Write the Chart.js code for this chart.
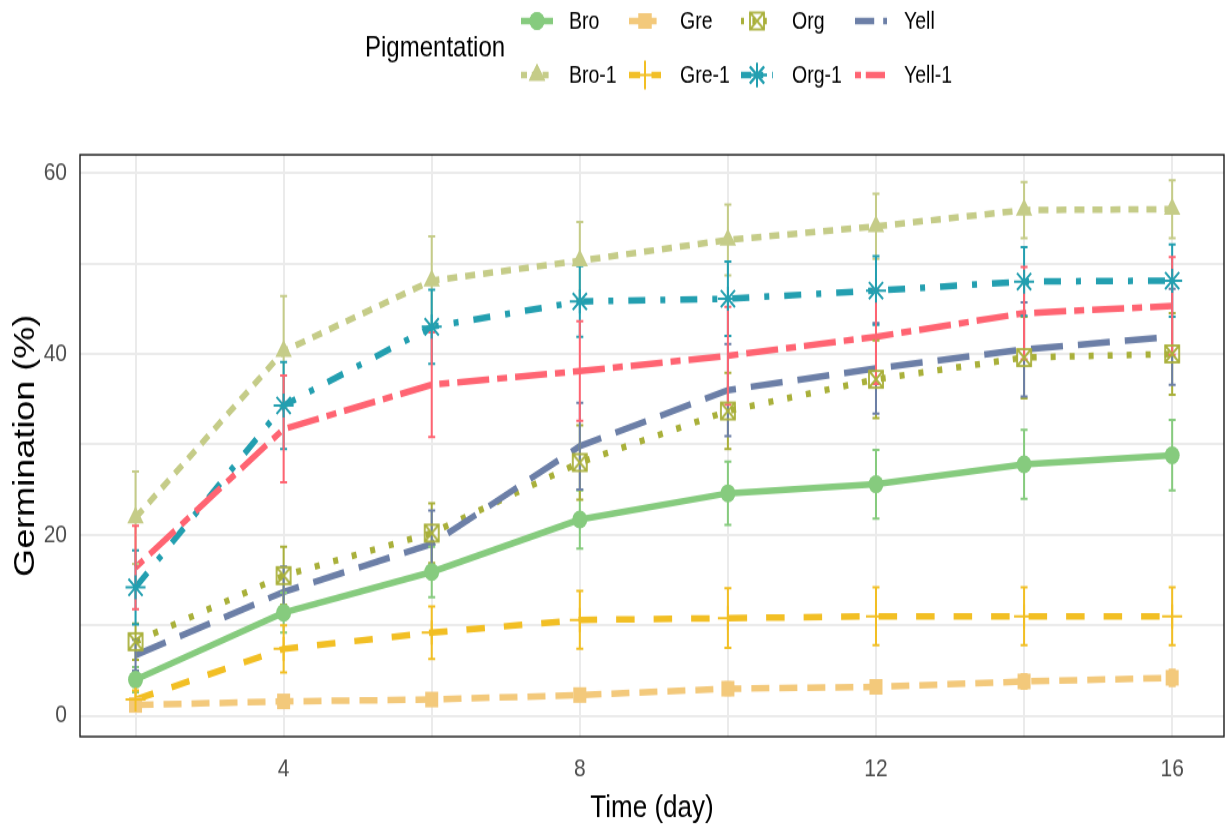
<!DOCTYPE html>
<html><head><meta charset="utf-8">
<script src="https://cdn.jsdelivr.net/npm/chart.js@4/dist/chart.umd.min.js"></script>
<style>
html,body{margin:0;padding:0;background:#fff;width:1225px;height:829px;}
#wrap{width:1225px;height:691px;transform:scaleY(1.19971);transform-origin:0 0;}
canvas{display:block;}
</style></head><body>
<div id="wrap"><canvas id="c" width="1225" height="691"></canvas></div>
<script>
// ---------------- data ----------------
const days = [2, 4, 6, 8, 10, 12, 14, 16];
const seriesNames = ['Bro', 'Bro-1', 'Gre', 'Gre-1', 'Org', 'Org-1', 'Yell', 'Yell-1'];
const bro      = [4.0, 11.4, 15.9, 21.7, 24.6, 25.6, 27.8, 28.8];
const broErr   = [1.4, 2.2, 2.8, 3.2, 3.5, 3.8, 3.8, 3.9];
const bro1     = [21.9, 40.3, 48.1, 50.3, 52.6, 54.1, 55.9, 56.0];
const bro1Err  = [5.1, 6.1, 4.9, 4.3, 3.9, 3.6, 3.1, 3.2];
const gre      = [1.2, 1.6, 1.8, 2.3, 3.0, 3.2, 3.8, 4.2];
const greErr   = [0.7, 0.6, 0.6, 0.6, 0.7, 0.7, 0.8, 0.9];
const gre1     = [1.8, 7.4, 9.2, 10.6, 10.8, 11.0, 11.0, 11.0];
const gre1Err  = [1.0, 2.6, 2.9, 3.2, 3.3, 3.2, 3.2, 3.2];
const org      = [8.2, 15.5, 20.2, 28.0, 33.7, 37.2, 39.6, 40.0];
const orgErr   = [2.0, 3.2, 3.3, 4.1, 4.2, 4.3, 4.5, 4.5];
const org1     = [14.2, 34.3, 43.0, 45.8, 46.1, 47.0, 48.0, 48.1];
const org1Err  = [4.1, 4.8, 4.1, 3.9, 4.1, 3.8, 3.8, 4.0];
const yell     = [6.7, 13.7, 19.0, 29.8, 36.0, 38.4, 40.5, 41.9];
const yellErr  = [1.7, 2.8, 3.7, 4.8, 5.1, 5.0, 5.2, 5.3];
const yell1    = [16.4, 31.7, 36.6, 38.1, 39.8, 41.9, 44.5, 45.3];
const yell1Err = [4.6, 5.9, 5.8, 5.5, 5.4, 5.2, 5.1, 5.4];
const xTicks = [2, 4, 6, 8, 10, 12, 14, 16];
const xLabels = [4, 8, 12, 16];
const yTicks = [0, 10, 20, 30, 40, 50, 60];
const yLabels = [0, 20, 40, 60];
const legendTitle = 'Pigmentation';
const xTitle = 'Time (day)';
const yTitle = 'Germination (%)';

const values = [bro, bro1, gre, gre1, org, org1, yell, yell1];
const errors = [broErr, bro1Err, greErr, gre1Err, orgErr, org1Err, yellErr, yell1Err];

// ---------------- styles ----------------
const FONT = "'Liberation Sans', Arial, Helvetica, sans-serif";
const colors = ['#86CB7E', '#C5CC88', '#F3C97B', '#F2BF24', '#A9B03A', '#239FB0', '#6C7FA7', '#FF6472'];
const dashes = [[], [10, 8], [18, 10], [18.5, 19], [5, 14], [17, 15, 5, 15], [32, 15], [10, 8, 32, 8]];

function boxX(color) {
  const c = document.createElement('canvas');
  c.width = 18; c.height = 18;
  const g = c.getContext('2d');
  g.strokeStyle = color; g.lineWidth = 1.8;
  g.strokeRect(2, 2, 14, 14);
  g.beginPath(); g.moveTo(2, 2); g.lineTo(16, 16); g.moveTo(16, 2); g.lineTo(2, 16); g.stroke();
  return c;
}
const markers = [
  {style: 'circle', r: 7.5, fill: true, bw: 0},
  {style: 'triangle', r: 9.5, fill: true, bw: 0},
  {style: 'rect', r: 9.2, fill: true, bw: 0},
  {style: 'cross', r: 10, fill: false, bw: 2},
  {style: boxX(colors[4]), r: 9, fill: false, bw: 0},
  {style: 'star', r: 10, fill: false, bw: 2},
  null,
  null
];

const datasets = [];
seriesNames.forEach((name, i) => {
  const pts = days.map((d, j) => ({x: d, y: values[i][j]}));
  datasets.push({
    label: name, data: pts, kind: 'line', series: i,
    borderColor: colors[i], borderWidth: 5.5, borderDash: dashes[i],
    borderCapStyle: 'butt', pointRadius: 0, tension: 0, fill: false,
    order: 200 - i
  });
});
seriesNames.forEach((name, i) => {
  const m = markers[i];
  if (!m) return;
  const pts = days.map((d, j) => ({x: d, y: values[i][j]}));
  datasets.push({
    label: name + ' pts', data: pts, kind: 'points', series: i,
    showLine: false, pointStyle: m.style, pointRadius: m.r,
    pointBackgroundColor: m.fill ? colors[i] : 'rgba(0,0,0,0)',
    pointBorderColor: colors[i], pointBorderWidth: m.bw,
    order: 100 - i
  });
});

// ---------------- plugins ----------------
let errDrawn = false;
function drawErrorBars(chart) {
  const ctx = chart.ctx, xs = chart.scales.x, ys = chart.scales.y, a = chart.chartArea;
  ctx.save();
  ctx.beginPath(); ctx.rect(a.left, a.top, a.right - a.left, a.bottom - a.top); ctx.clip();
  seriesNames.forEach((n, i) => {
    ctx.strokeStyle = colors[i]; ctx.lineWidth = 2; ctx.setLineDash([]);
    days.forEach((d, j) => {
      const x = xs.getPixelForValue(d);
      const y1 = ys.getPixelForValue(values[i][j] - errors[i][j]);
      const y2 = ys.getPixelForValue(values[i][j] + errors[i][j]);
      ctx.beginPath();
      ctx.moveTo(x, y1); ctx.lineTo(x, y2);
      ctx.moveTo(x - 3.5, y1); ctx.lineTo(x + 3.5, y1);
      ctx.moveTo(x - 3.5, y2); ctx.lineTo(x + 3.5, y2);
      ctx.stroke();
    });
  });
  ctx.restore();
}

const customPlugin = {
  id: 'custom',
  beforeDraw(chart) {
    const ctx = chart.ctx;
    ctx.save(); ctx.fillStyle = '#fff'; ctx.fillRect(0, 0, chart.width, chart.height); ctx.restore();
  },
  beforeDatasetsDraw() { errDrawn = false; },
  beforeDatasetDraw(chart, args) {
    const ds = chart.data.datasets[args.index];
    if (ds.kind === 'points' && !errDrawn) { drawErrorBars(chart); errDrawn = true; }
  },
  afterDatasetsDraw(chart) {
    if (!errDrawn) { drawErrorBars(chart); errDrawn = true; }
  },
  afterDraw(chart) {
    const ctx = chart.ctx, a = chart.chartArea;
    ctx.save();
    // panel border
    ctx.strokeStyle = '#1a1a1a'; ctx.lineWidth = 1.4; ctx.setLineDash([]);
    ctx.strokeRect(a.left, a.top, a.right - a.left, a.bottom - a.top);
    // legend
    ctx.fillStyle = '#000';
    ctx.font = '24px ' + FONT; ctx.textAlign = 'left'; ctx.textBaseline = 'middle';
    ctx.fillText(legendTitle, 365, 40);
    const colKey = [537, 645, 757, 871];
    const colText = [569, 680, 792, 904];
    const rowY = [17.5, 62.5];
    seriesNames.forEach((name, i) => {
      const c = Math.floor(i / 2), r = i % 2;
      const kx = colKey[c], ky = rowY[r];
      ctx.strokeStyle = colors[i]; ctx.lineWidth = 5.5; ctx.lineCap = 'butt';
      ctx.setLineDash(dashes[i].length ? dashes[i].map(v => v * 0.6) : []);
      ctx.beginPath(); ctx.moveTo(kx - 16, ky); ctx.lineTo(kx + 16, ky); ctx.stroke();
      ctx.setLineDash([]);
      const m = markers[i];
      if (m) {
        if (i === 3) {
          ctx.lineWidth = 2; ctx.beginPath();
          ctx.moveTo(kx, ky - 12); ctx.lineTo(kx, ky + 12); ctx.moveTo(kx - 12, ky); ctx.lineTo(kx + 12, ky);
          ctx.stroke();
        } else {
          ctx.fillStyle = colors[i]; ctx.strokeStyle = colors[i]; ctx.lineWidth = m.bw || 1;
          Chart.helpers.drawPoint(ctx, {pointStyle: m.style, radius: m.r, borderWidth: m.bw, rotation: 0}, kx, ky);
          if (m.fill) ctx.fill();
          if (m.bw) ctx.stroke();
        }
      }
      ctx.fillStyle = '#000'; ctx.font = '19.5px ' + FONT;
      ctx.fillText(name, colText[c], ky + 1);
    });
    ctx.restore();
  }
};

new Chart(document.getElementById('c'), {
  type: 'line',
  data: {datasets},
  options: {
    responsive: false, animation: false, devicePixelRatio: 1,
    events: [],
    layout: {autoPadding: false, padding: {top: 129, right: 1, left: 0, bottom: 0}},
    plugins: {legend: {display: false}, tooltip: {enabled: false}},
    scales: {
      x: {
        type: 'linear', min: 1.25, max: 16.7,
        afterBuildTicks: s => { s.ticks = xTicks.map(v => ({value: v})); },
        afterFit: s => { s.height = 77; s.paddingLeft = 0; s.paddingRight = 0; },
        grid: {color: '#EBEBEB', lineWidth: 2, drawTicks: false},
        border: {display: false},
        ticks: {autoSkip: false, maxRotation: 0, padding: 15, color: '#4D4D4D',
          font: {family: FONT, size: 21},
          callback: v => xLabels.includes(v) ? String(v) : ''},
        title: {display: true, text: xTitle, color: '#000', font: {family: FONT, size: 26},
          padding: {top: 0, bottom: 2}}
      },
      y: {
        type: 'linear', min: -2.3, max: 62.01,
        afterBuildTicks: s => { s.ticks = yTicks.map(v => ({value: v})); },
        afterFit: s => { s.width = 80; s.paddingTop = 0; s.paddingBottom = 0; },
        grid: {color: '#EBEBEB', lineWidth: 2, drawTicks: false},
        border: {display: false},
        ticks: {autoSkip: false, padding: 13, color: '#4D4D4D',
          font: {family: FONT, size: 21},
          callback: v => yLabels.includes(v) ? String(v) : ''},
        title: {display: true, text: yTitle, color: '#000', font: {family: FONT, size: 30},
          padding: {top: 8, bottom: 0}}
      }
    }
  },
  plugins: [customPlugin]
});
</script>
</body></html>
